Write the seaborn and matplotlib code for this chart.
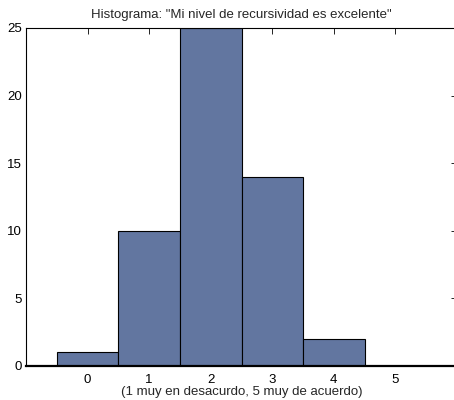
import matplotlib
matplotlib.use("Agg")
import matplotlib.pyplot as plt
import seaborn as sns
import pandas as pd

categories = [0, 1, 2, 3, 4, 5]
counts = [1, 10, 25, 14, 2, 0]
title = 'Histograma: "Mi nivel de recursividad es excelente"'
xlabel = "(1 muy en desacurdo, 5 muy de acuerdo)"

sns.set_style("white")
plt.rcParams["font.family"] = ["Liberation Sans", "DejaVu Sans"]

fig = plt.figure(figsize=(4.54, 4.0), dpi=100)
ax = fig.add_axes([26/454, 34/400, (457-26)/454, (366-28)/400])

df = pd.DataFrame({"x": categories, "y": counts})
sns.barplot(data=df, x="x", y="y", native_scale=True, width=1.0,
            color="#6276a0", saturation=1, edgecolor="black", linewidth=0.8, ax=ax)

fs = 9.5
ax.set_xlim(-1, 6)
ax.set_ylim(0, 25)
ax.set_xticks(categories)
ax.set_xticklabels([str(c) for c in categories], fontsize=fs)
ax.set_yticks([0, 5, 10, 15, 20, 25])
ax.set_yticklabels(["0", "5", "10", "15", "20", "25"], fontsize=fs)
ax.tick_params(direction="in", top=True, right=True, length=4, width=0.6, colors="black")
ax.tick_params(axis="x", pad=5.5)
ax.tick_params(axis="y", pad=3)
ax.set_xlabel(xlabel, fontsize=fs, labelpad=0.5)
ax.set_ylabel("")
ax.set_title(title, fontsize=fs, pad=7)
for s in ax.spines.values():
    s.set_visible(True)
    s.set_color("black")
    s.set_linewidth(0.8)
ax.spines["bottom"].set_linewidth(1.6)

fig.savefig("out.png", dpi=100)
